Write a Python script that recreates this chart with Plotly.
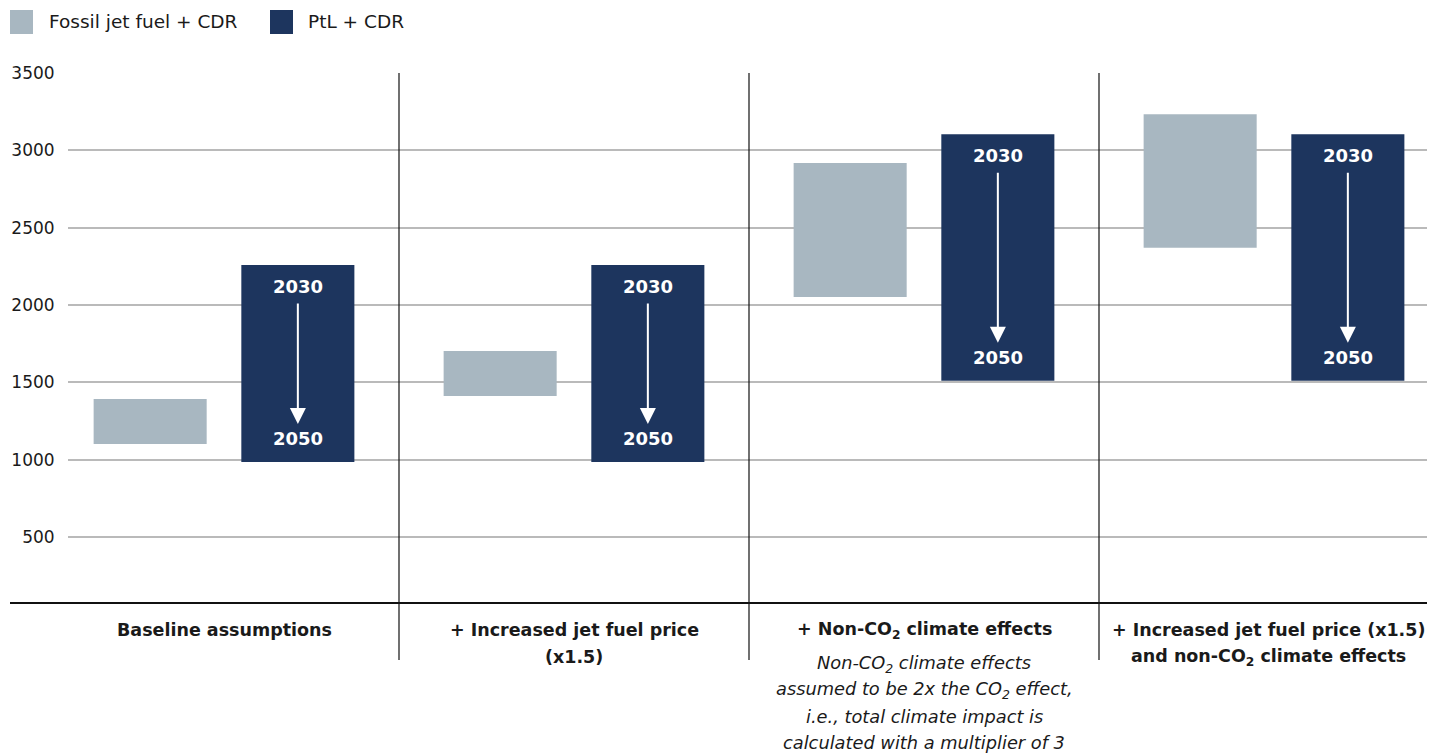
import plotly.graph_objects as go

# ---------------- data ----------------
categories = [
    "Baseline assumptions",
    "+ Increased jet fuel price<br>(x1.5)",
    "+ Non-CO<sub>2</sub> climate effects",
    "+ Increased jet fuel price (x1.5)<br>and non-CO<sub>2</sub> climate effects",
]
note_category = 2  # index of category carrying the italic note
note_lines = [
    "Non-CO<sub>2</sub> climate effects",
    "assumed to be 2x the CO<sub>2</sub> effect,",
    "i.e., total climate impact is",
    "calculated with a multiplier of 3",
]

series_names = ["Fossil jet fuel + CDR", "PtL + CDR"]
fossil_low = [1100, 1412, 2052, 2370]
fossil_high = [1392, 1702, 2918, 3234]
ptl_2050 = [985, 985, 1510, 1510]
ptl_2030 = [2258, 2258, 3105, 3105]
year_labels = ["2030", "2050"]
y_ticks = [500, 1000, 1500, 2000, 2500, 3000, 3500]

# ---------------- style ----------------
FOSSIL = "#a8b7c1"
PTL = "#1d355e"
TXT = "#1a1a1a"
FONT = "DejaVu Sans"
OFF = 0.211
BW = 0.323

BODY = 8  # browser default body margin
W, H = 1435 - BODY, 753 - BODY
ML, MT = 68 - BODY, 73 - BODY
PB = 603 - BODY           # plot bottom (figure px)
MR, MB = 0, H - PB
PW, PH = W - ML - MR, PB - MT


def px_x(x):  # screen px -> paper
    return (x - BODY - ML) / PW


def px_y(y):  # screen px -> paper
    return (PB - (y - BODY)) / PH


gx = [i + 1 for i in range(len(categories))]

fig = go.Figure()
fig.add_trace(go.Bar(
    x=[g - OFF for g in gx],
    y=[h - l for h, l in zip(fossil_high, fossil_low)],
    base=fossil_low, width=BW, marker=dict(color=FOSSIL, line=dict(width=0)),
    name=series_names[0], showlegend=False, hoverinfo="skip",
))
fig.add_trace(go.Bar(
    x=[g + OFF for g in gx],
    y=[h - l for h, l in zip(ptl_2030, ptl_2050)],
    base=ptl_2050, width=BW, marker=dict(color=PTL, line=dict(width=0)),
    name=series_names[1], showlegend=False, hoverinfo="skip",
))

ann = []
shapes = []

# year labels and arrows inside PtL bars
for g, top, bot in zip(gx, ptl_2030, ptl_2050):
    xp = g + OFF
    ann.append(dict(x=xp, y=top, xref="x", yref="y", yshift=-21, showarrow=False,
                    text="<b>%s</b>" % year_labels[0], font=dict(family=FONT, size=18, color="white")))
    ann.append(dict(x=xp, y=bot, xref="x", yref="y", yshift=23, showarrow=False,
                    text="<b>%s</b>" % year_labels[1], font=dict(family=FONT, size=18, color="white")))
    ann.append(dict(x=xp, y=bot, xref="x", yref="y", ax=xp, ay=top, axref="x", ayref="y",
                    showarrow=True, text="", arrowhead=2, arrowsize=1.6, arrowwidth=2,
                    arrowcolor="white", standoff=38, startstandoff=37))

# category labels (one annotation per line for exact line spacing)
for i, (g, c) in enumerate(zip(gx, categories)):
    for j, line in enumerate(c.split("<br>")):
        ann.append(dict(x=g, y=px_y(630 + 27 * j), xref="x", yref="paper", yanchor="middle",
                        xshift=-6 if i == len(categories) - 1 else 0,
                        showarrow=False, text="<b>%s</b>" % line, align="center",
                        font=dict(family=FONT, size=17.5, color=TXT)))
for j, line in enumerate(note_lines):
    ann.append(dict(x=gx[note_category], y=px_y(664 + 26 * j), xref="x", yref="paper",
                    yanchor="middle", showarrow=False, text="<i>%s</i>" % line, align="center",
                    font=dict(family=FONT, size=17.8, color=TXT)))

# separators between groups
for g in gx[:-1]:
    shapes.append(dict(type="line", xref="x", yref="paper", x0=g + 0.5, x1=g + 0.5,
                       y0=1, y1=px_y(660), line=dict(color="#111", width=1.2)))

# baseline axis line
shapes.append(dict(type="line", xref="paper", yref="paper", x0=px_x(10), x1=1,
                   y0=0, y1=0, line=dict(color="#111", width=2)))

# custom legend
for name, col, x0, tx in zip(series_names, [FOSSIL, PTL], [10, 270], [47, 306]):
    shapes.append(dict(type="rect", xref="paper", yref="paper", x0=px_x(x0), x1=px_x(x0 + 23),
                       y0=px_y(34), y1=px_y(10), fillcolor=col, line=dict(width=0)))
    ann.append(dict(x=px_x(tx), y=px_y(22), xref="paper", yref="paper", xanchor="left",
                    yanchor="middle", showarrow=False, text=name,
                    font=dict(family=FONT, size=18.5, color=TXT)))

fig.update_layout(
    width=W, height=H,
    margin=dict(l=ML, r=MR, t=MT, b=MB, pad=0),
    paper_bgcolor="white", plot_bgcolor="white",
    barmode="overlay",
    showlegend=False,
    xaxis=dict(range=[0.5 + (68 - 49) / 350, 0.5 + (1435 - 49) / 350], showgrid=False,
               zeroline=False, showticklabels=False, showline=False, fixedrange=True),
    yaxis=dict(range=[72, 3501], tickvals=y_ticks, showgrid=True, gridcolor="#bababa",
               gridwidth=1.5, zeroline=False, showline=False, ticks="outside", ticklen=9,
               tickcolor="rgba(0,0,0,0)",
               tickfont=dict(family=FONT, size=17, color=TXT), fixedrange=True),
    annotations=ann,
    shapes=shapes,
)

fig.write_html("out.html")
